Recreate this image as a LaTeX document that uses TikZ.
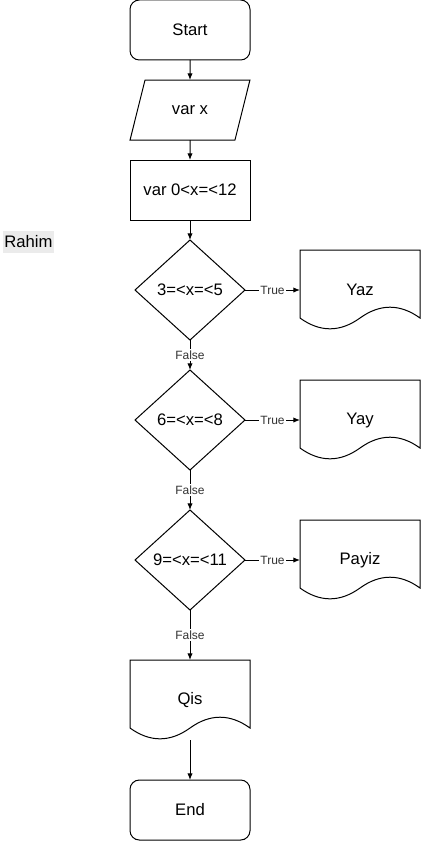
\documentclass[tikz,border=0pt]{standalone}
\usepackage{fontspec}
\setmainfont{Liberation Sans}
\usetikzlibrary{arrows.meta,positioning,shapes.geometric}

% outline of a document box with a wavy bottom edge
\newcommand{\wavedoc}[1]{%
  \draw[shift={(#1.north west)}] (0,0) -- (120,0) -- (120,68)
    .. controls (100,53.6) and (80,53.6) .. (60,68)
    .. controls (40,82.4) and (20,82.4) .. (0,68) -- cycle;}

\begin{document}
\begin{tikzpicture}[x=0.75pt, y=-0.75pt, node distance=15pt, line width=0.75pt,
  every node/.style={font=\fontsize{12.5}{14}\selectfont, outer sep=0pt},
  startstop/.style={draw, rounded corners=7pt, minimum width=90pt, minimum height=45pt},
  io/.style={draw, trapezium, trapezium left angle=67.4, trapezium right angle=112.6,
    trapezium stretches=true, minimum width=90pt, minimum height=45pt},
  process/.style={draw, minimum width=90pt, minimum height=45pt},
  decision/.style={draw, diamond, aspect=1.1, inner sep=0pt, minimum width=82.5pt, minimum height=75pt},
  docbox/.style={minimum width=90pt, minimum height=60pt},
  flow/.style={-{Latex[length=5pt,width=4pt]}},
  edgelbl/.style={fill=white, inner sep=1pt, text=black!80, font=\fontsize{9}{10}\selectfont}]
  \useasboundingbox (0,0) rectangle (421,841);

  \node[startstop] (start) at (190,30) {Start};
  \node[io, below=of start] (readx) {var x};
  \node[process, below=of readx] (range) {var 0<x=<12};
  \node[decision, below=of range] (chk1) {3=<x=<5};
  \node[docbox, right=41.25pt of chk1] (yaz) {Yaz};
  \node[decision, below=22.5pt of chk1] (chk2) {6=<x=<8};
  \node[docbox, right=41.25pt of chk2] (yay) {Yay};
  \node[decision, below=30pt of chk2] (chk3) {9=<x=<11};
  \node[docbox, right=41.25pt of chk3] (payiz) {Payiz};
  \node[docbox, below=37.5pt of chk3] (qis) {Qis};
  \node[startstop, below=30pt of qis] (end) {End};
  \node[fill=black!8, inner xsep=1pt, minimum height=15pt] (author) at (28.5,242) {Rahim};

  \wavedoc{yaz} \wavedoc{yay} \wavedoc{payiz} \wavedoc{qis}

  \draw[flow] (start) -- (readx);
  \draw[flow] (readx) -- (range);
  \draw[flow] (range) -- (chk1);
  \draw[flow] (chk1) -- node[edgelbl] {True} (yaz);
  \draw[flow] (chk1) -- node[edgelbl] {False} (chk2);
  \draw[flow] (chk2) -- node[edgelbl] {True} (yay);
  \draw[flow] (chk2) -- node[edgelbl] {False} (chk3);
  \draw[flow] (chk3) -- node[edgelbl] {True} (payiz);
  \draw[flow] (chk3) -- node[edgelbl] {False} (qis);
  \draw[flow] (qis) -- (end);
\end{tikzpicture}
\end{document}
